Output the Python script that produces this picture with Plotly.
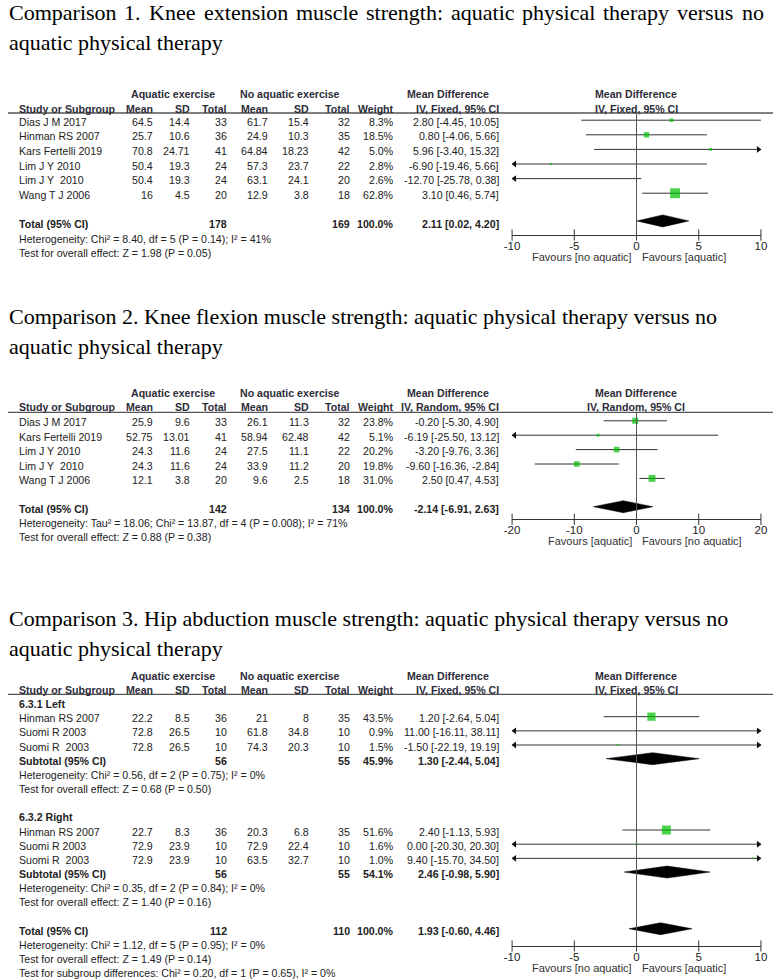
import math
import plotly.graph_objects as go

W, H = 780, 980

# ---------------- DATA ----------------
titles = [
    ("Comparison 1. Knee extension muscle strength: aquatic physical therapy versus no", "aquatic physical therapy"),
    ("Comparison 2. Knee flexion muscle strength: aquatic physical therapy versus no", "aquatic physical therapy"),
    ("Comparison 3. Hip abduction muscle strength: aquatic physical therapy versus no", "aquatic physical therapy"),
]

# Comparison 1
c1_study = ["Dias J M 2017", "Hinman RS 2007", "Kars Fertelli 2019", "Lim J Y 2010", "Lim J Y\u00a0 2010", "Wang T J 2006"]
c1_aq_mean = [64.5, 25.7, 70.8, 50.4, 50.4, 16]
c1_aq_sd = [14.4, 10.6, 24.71, 19.3, 19.3, 4.5]
c1_aq_n = [33, 36, 41, 24, 24, 20]
c1_no_mean = [61.7, 24.9, 64.84, 57.3, 63.1, 12.9]
c1_no_sd = [15.4, 10.3, 18.23, 23.7, 24.1, 3.8]
c1_no_n = [32, 35, 42, 22, 20, 18]
c1_weight = [8.3, 18.5, 5.0, 2.8, 2.6, 62.8]
c1_md = [2.80, 0.80, 5.96, -6.90, -12.70, 3.10]
c1_lo = [-4.45, -4.06, -3.40, -19.46, -25.78, 0.46]
c1_hi = [10.05, 5.66, 15.32, 5.66, 0.38, 5.74]
c1_total = dict(aq_n=178, no_n=169, weight=100.0, md=2.11, lo=0.02, hi=4.20)
c1_het = "Heterogeneity: Chi\u00b2 = 8.40, df = 5 (P = 0.14); I\u00b2 = 41%"
c1_test = "Test for overall effect: Z = 1.98 (P = 0.05)"
c1_ticks = [-10, -5, 0, 5, 10]
c1_favours = ("Favours [no aquatic]", "Favours [aquatic]")

# Comparison 2
c2_study = ["Dias J M 2017", "Kars Fertelli 2019", "Lim J Y 2010", "Lim J Y\u00a0 2010", "Wang T J 2006"]
c2_aq_mean = [25.9, 52.75, 24.3, 24.3, 12.1]
c2_aq_sd = [9.6, 13.01, 11.6, 11.6, 3.8]
c2_aq_n = [33, 41, 24, 24, 20]
c2_no_mean = [26.1, 58.94, 27.5, 33.9, 9.6]
c2_no_sd = [11.3, 62.48, 11.1, 11.2, 2.5]
c2_no_n = [32, 42, 22, 20, 18]
c2_weight = [23.8, 5.1, 20.2, 19.8, 31.0]
c2_md = [-0.20, -6.19, -3.20, -9.60, 2.50]
c2_lo = [-5.30, -25.50, -9.76, -16.36, 0.47]
c2_hi = [4.90, 13.12, 3.36, -2.84, 4.53]
c2_total = dict(aq_n=142, no_n=134, weight=100.0, md=-2.14, lo=-6.91, hi=2.63)
c2_het = "Heterogeneity: Tau\u00b2 = 18.06; Chi\u00b2 = 13.87, df = 4 (P = 0.008); I\u00b2 = 71%"
c2_test = "Test for overall effect: Z = 0.88 (P = 0.38)"
c2_ticks = [-20, -10, 0, 10, 20]
c2_favours = ("Favours [aquatic]", "Favours [no aquatic]")

# Comparison 3
c3_groups = ["6.3.1 Left", "6.3.2 Right"]
c3_study = [["Hinman RS 2007", "Suomi R 2003", "Suomi R\u00a0 2003"],
            ["Hinman RS 2007", "Suomi R 2003", "Suomi R\u00a0 2003"]]
c3_aq_mean = [[22.2, 72.8, 72.8], [22.7, 72.9, 72.9]]
c3_aq_sd = [[8.5, 26.5, 26.5], [8.3, 23.9, 23.9]]
c3_aq_n = [[36, 10, 10], [36, 10, 10]]
c3_no_mean = [[21, 61.8, 74.3], [20.3, 72.9, 63.5]]
c3_no_sd = [[8, 34.8, 20.3], [6.8, 22.4, 32.7]]
c3_no_n = [[35, 10, 10], [35, 10, 10]]
c3_weight = [[43.5, 0.9, 1.5], [51.6, 1.6, 1.0]]
c3_md = [[1.20, 11.00, -1.50], [2.40, 0.00, 9.40]]
c3_lo = [[-2.64, -16.11, -22.19], [-1.13, -20.30, -15.70]]
c3_hi = [[5.04, 38.11, 19.19], [5.93, 20.30, 34.50]]
c3_sub = [dict(aq_n=56, no_n=55, weight=45.9, md=1.30, lo=-2.44, hi=5.04),
          dict(aq_n=56, no_n=55, weight=54.1, md=2.46, lo=-0.98, hi=5.90)]
c3_sub_het = ["Heterogeneity: Chi\u00b2 = 0.56, df = 2 (P = 0.75); I\u00b2 = 0%",
              "Heterogeneity: Chi\u00b2 = 0.35, df = 2 (P = 0.84); I\u00b2 = 0%"]
c3_sub_test = ["Test for overall effect: Z = 0.68 (P = 0.50)",
               "Test for overall effect: Z = 1.40 (P = 0.16)"]
c3_total = dict(aq_n=112, no_n=110, weight=100.0, md=1.93, lo=-0.60, hi=4.46)
c3_het = "Heterogeneity: Chi\u00b2 = 1.12, df = 5 (P = 0.95); I\u00b2 = 0%"
c3_test = "Test for overall effect: Z = 1.49 (P = 0.14)"
c3_subdiff = "Test for subgroup differences: Chi\u00b2 = 0.20, df = 1 (P = 0.65), I\u00b2 = 0%"
c3_ticks = [-10, -5, 0, 5, 10]
c3_favours = ("Favours [no aquatic]", "Favours [aquatic]")

methods = ["IV, Fixed, 95% CI", "IV, Random, 95% CI", "IV, Fixed, 95% CI"]

# ---------------- LAYOUT HELPERS ----------------
SANS = "Liberation Sans, Arial, sans-serif"
SERIF = "Liberation Serif, Times New Roman, serif"
TXT = "#222222"
HDR = "#2d2d3a"
FS = 10.6

X0, X1 = 0.0, float(W)     # text axis units are screen pixels
COL = dict(name=10, aq_mean=149, aq_sd=186, aq_n=224, no_mean=266, no_sd=308,
           no_n=349, weight=394, ci=501)
PLOT_L, PLOT_R = 513.3, 766.7


def dom(px):
    return (px - X0) / (X1 - X0)


fig = go.Figure()
ann = []
shapes = []


def text(x, y, s, anchor="left", bold=False, size=FS, color=TXT, family=SANS):
    ann.append(dict(x=x, y=y, xref="x", yref="y", text=("<b>%s</b>" % s) if bold else s,
                    showarrow=False, xanchor=anchor, yanchor="middle",
                    font=dict(family=family, size=size, color=color), borderpad=0))


def fmt_ci(md, lo, hi):
    return "%.2f [%.2f, %.2f]" % (md, lo, hi)


def header(y1, y2, yline, method):
    text(168, y1, "Aquatic exercise", "center", True, color=HDR)
    text(287, y1, "No aquatic exercise", "center", True, color=HDR)
    text(448, y1, "Mean Difference", "center", True, color=HDR)
    text(639.5, y1, "Mean Difference", "center", True, color=HDR)
    text(COL["name"], y2, "Study or Subgroup", "left", True, color=HDR)
    for k, lab in [("aq_mean", "Mean"), ("aq_sd", "SD"), ("aq_n", "Total"), ("no_mean", "Mean"),
                   ("no_sd", "SD"), ("no_n", "Total"), ("weight", "Weight"), ("ci", method)]:
        text(COL[k], y2, lab, "right", True, color=HDR)
    text(639.5, y2, method, "center", True, color=HDR)
    shapes.append(dict(type="line", xref="x", yref="y", x0=0, x1=779, y0=yline, y1=yline,
                       line=dict(color="#555555", width=1.3)))


def study_row(y, name, am, asd, an, nm, nsd, nn, w, md, lo, hi):
    text(COL["name"], y, name)
    for k, v in [("aq_mean", am), ("aq_sd", asd), ("aq_n", an), ("no_mean", nm),
                 ("no_sd", nsd), ("no_n", nn)]:
        text(COL[k], y, str(v), "right")
    text(COL["weight"], y, "%.1f%%" % w, "right")
    text(COL["ci"], y, fmt_ci(md, lo, hi), "right")


def total_row(y, label, t):
    text(COL["name"], y, label, "left", True)
    text(COL["aq_n"], y, str(t["aq_n"]), "right", True)
    text(COL["no_n"], y, str(t["no_n"]), "right", True)
    text(COL["weight"], y, "%.1f%%" % t["weight"], "right", True)
    text(COL["ci"], y, fmt_ci(t["md"], t["lo"], t["hi"]), "right", True)


def forest(xa, rng, ys, md, lo, hi, w):
    xmin, xmax = rng
    tol = 0.01 * (xmax - xmin)
    lx, ly = [], []
    al_x, al_y, ar_x, ar_y = [], [], [], []
    for y, m, l, h in zip(ys, md, lo, hi):
        l2, h2 = max(l, xmin), min(h, xmax)
        lx += [l2, h2, None]
        ly += [y, y, None]
        if l < xmin - tol:
            al_x.append(xmin + 0.01 * (xmax - xmin)); al_y.append(y)
        if h > xmax + tol:
            ar_x.append(xmax - 0.01 * (xmax - xmin)); ar_y.append(y)
    fig.add_trace(go.Scatter(x=lx, y=ly, xaxis=xa, yaxis="y", mode="lines",
                             line=dict(color="#333333", width=1), hoverinfo="skip"))
    fig.add_trace(go.Scatter(x=md, y=ys, xaxis=xa, yaxis="y", mode="markers",
                             marker=dict(symbol="square", color="#00c000",
                                         size=[max(2.0, 1.25 * math.sqrt(v)) for v in w],
                                         line=dict(width=0)), hoverinfo="skip"))
    if al_x:
        fig.add_trace(go.Scatter(x=al_x, y=al_y, xaxis=xa, yaxis="y", mode="markers", cliponaxis=False,
                                 marker=dict(symbol="triangle-left", size=6, color="#111111"), hoverinfo="skip"))
    if ar_x:
        fig.add_trace(go.Scatter(x=ar_x, y=ar_y, xaxis=xa, yaxis="y", mode="markers", cliponaxis=False,
                                 marker=dict(symbol="triangle-right", size=6, color="#111111"), hoverinfo="skip"))


def diamond(xa, y, t, h=6):
    fig.add_trace(go.Scatter(x=[t["lo"], t["md"], t["hi"], t["md"], t["lo"]],
                             y=[y, y - h, y, y + h, y], xaxis=xa, yaxis="y", mode="lines",
                             fill="toself", fillcolor="#000000", line=dict(color="#000000", width=0.5),
                             hoverinfo="skip"))


def axis_panel(name, xa_key, rng, ticks, y_axis, y_top, favours):
    fig.layout[xa_key] = dict(domain=[dom(PLOT_L), dom(PLOT_R)], range=list(rng), anchor="free",
                              position=1 - y_axis / H, showline=True, linecolor="#333333",
                              linewidth=1, ticks="", tickvals=ticks,
                              ticktext=[str(t) for t in ticks], showgrid=False, zeroline=False,
                              tickfont=dict(family=SANS, size=11.5, color=TXT), fixedrange=True)
    fig.add_trace(go.Scatter(x=ticks, y=[y_axis] * len(ticks), xaxis=name, yaxis="y", mode="markers",
                             cliponaxis=False,
                             marker=dict(symbol="line-ns-open", size=8, color="#333333",
                                         line=dict(width=1, color="#333333")),
                             hoverinfo="skip"))
    shapes.append(dict(type="line", xref=name, yref="y", x0=0, x1=0, y0=y_top, y1=y_axis,
                       line=dict(color="#555555", width=1)))
    text(636, y_axis + 22, favours[0], "right", color="#333333", size=11)
    text(645, y_axis + 22, favours[1], "left", color="#333333", size=11)


# ---------------- TITLES ----------------
TS = 22
# Times/Liberation Serif advance widths (1/1000 em) for justifying line 1 of comparison 1
TIMES_W = {" ": 250, "C": 667, "o": 500, "m": 778, "p": 500, "a": 444, "r": 333, "i": 278,
           "s": 389, "n": 500, "1": 500, ".": 250, "K": 722, "e": 444, "x": 500, "t": 278,
           "u": 500, "c": 444, "l": 278, "g": 500, "h": 500, ":": 278, "q": 500, "y": 500,
           "v": 500}
TITLE_X = 0.5
JUSTIFY_RIGHT = 768


def justified(y, line, size, left, right):
    words = line.split(" ")
    widths = [sum(TIMES_W.get(ch, 500) for ch in wd) * size / 1000 for wd in words]
    gap = (right - left - sum(widths)) / (len(words) - 1)
    x = left
    for wd, wdt in zip(words, widths):
        text(x, y, wd, "left", size=size, color="#000000", family=SERIF)
        x += wdt + gap


title_y = [(12, 42), (316, 346), (618, 648)]
for k, ((l1, l2), (y1, y2)) in enumerate(zip(titles, title_y)):
    if k == 0:
        justified(y1, l1, TS, TITLE_X, JUSTIFY_RIGHT)
    else:
        text(TITLE_X, y1, l1, "left", size=TS, color="#000000", family=SERIF)
    text(TITLE_X, y2, l2, "left", size=TS, color="#000000", family=SERIF)

MOFF = -1.5  # marks sit slightly above text centre

# ---------------- PANEL 1 ----------------
header(94.3, 109, 113, methods[0])
step = 14.6
ys = [121.7 + i * step for i in range(len(c1_study))]
for i, y in enumerate(ys):
    study_row(y, c1_study[i], c1_aq_mean[i], c1_aq_sd[i], c1_aq_n[i], c1_no_mean[i],
              c1_no_sd[i], c1_no_n[i], c1_weight[i], c1_md[i], c1_lo[i], c1_hi[i])
yt = 121.7 + 7 * step
total_row(yt, "Total (95% CI)", c1_total)
text(COL["name"], yt + step, c1_het)
text(COL["name"], yt + 2 * step, c1_test)
forest("x2", (-10, 10), [y + MOFF for y in ys], c1_md, c1_lo, c1_hi, c1_weight)
diamond("x2", yt - 3, c1_total)
axis_panel("x2", "xaxis2", (-10, 10), c1_ticks, 235, 113, c1_favours)

# ---------------- PANEL 2 ----------------
header(392.7, 407.3, 412.3, methods[1])
step = 14.4
ys = [422.3 + i * step for i in range(len(c2_study))]
for i, y in enumerate(ys):
    study_row(y, c2_study[i], c2_aq_mean[i], c2_aq_sd[i], c2_aq_n[i], c2_no_mean[i],
              c2_no_sd[i], c2_no_n[i], c2_weight[i], c2_md[i], c2_lo[i], c2_hi[i])
yt = 422.3 + 6 * step
total_row(yt, "Total (95% CI)", c2_total)
text(COL["name"], yt + step, c2_het)
text(COL["name"], yt + 2 * step - 1, c2_test)
forest("x3", (-20, 20), [y + MOFF for y in ys], c2_md, c2_lo, c2_hi, c2_weight)
diamond("x3", yt - 2, c2_total)
axis_panel("x3", "xaxis3", (-20, 20), c2_ticks, 519.3, 412.3, c2_favours)

# ---------------- PANEL 3 ----------------
header(675.7, 690, 694.3, methods[2])
step = 14.17
r0 = 704
row = 0
for g in range(2):
    text(COL["name"], r0 + row * step, c3_groups[g], "left", True)
    row += 1
    ys = []
    for i in range(len(c3_study[g])):
        y = r0 + row * step
        ys.append(y)
        study_row(y, c3_study[g][i], c3_aq_mean[g][i], c3_aq_sd[g][i], c3_aq_n[g][i],
                  c3_no_mean[g][i], c3_no_sd[g][i], c3_no_n[g][i], c3_weight[g][i],
                  c3_md[g][i], c3_lo[g][i], c3_hi[g][i])
        row += 1
    forest("x4", (-10, 10), [y + MOFF for y in ys], c3_md[g], c3_lo[g], c3_hi[g], c3_weight[g])
    ysub = r0 + row * step
    total_row(ysub, "Subtotal (95% CI)", c3_sub[g])
    diamond("x4", ysub - 2, c3_sub[g])
    row += 1
    text(COL["name"], r0 + row * step, c3_sub_het[g]); row += 1
    text(COL["name"], r0 + row * step, c3_sub_test[g]); row += 1
    row += 1
yt = r0 + row * step
total_row(yt, "Total (95% CI)", c3_total)
diamond("x4", yt - 2, c3_total)
row += 1
for s in [c3_het, c3_test, c3_subdiff]:
    text(COL["name"], r0 + row * step, s)
    row += 1
axis_panel("x4", "xaxis4", (-10, 10), c3_ticks, 946, 694.3, c3_favours)

fig.update_layout(
    width=W, height=H, autosize=False, margin=dict(l=0, r=0, t=0, b=0, pad=0),
    paper_bgcolor="#ffffff", plot_bgcolor="rgba(0,0,0,0)",
    showlegend=False,
    xaxis=dict(domain=[0, 1], range=[X0, X1], visible=False, fixedrange=True),
    yaxis=dict(domain=[0, 1], range=[H, 0], visible=False, fixedrange=True),
    annotations=ann, shapes=shapes,
)
fig.add_trace(go.Scatter(x=[X0 + 1], y=[1], xaxis="x", yaxis="y", mode="markers",
                         marker=dict(size=0.1, color="rgba(0,0,0,0)"), hoverinfo="skip"))

fig.write_html("out.html", config=dict(displayModeBar=False, responsive=False),
               post_script="document.body.style.margin='0';document.body.style.overflow='hidden';")
